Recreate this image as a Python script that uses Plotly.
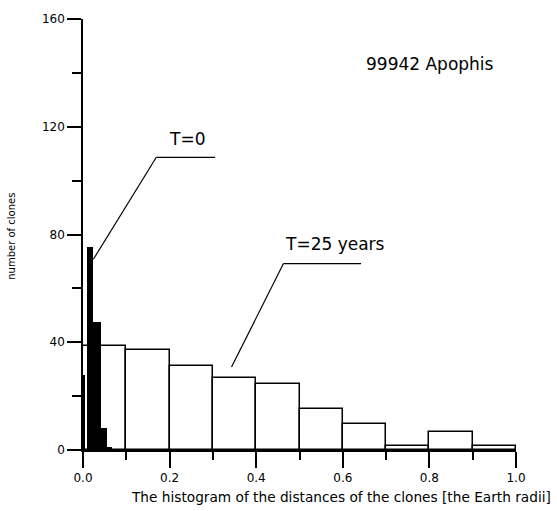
import plotly.graph_objects as go

# T = 25 years histogram (bin edges and counts)
t25_edges = [0.0, 0.1, 0.2, 0.3, 0.4, 0.5, 0.6, 0.7, 0.8, 0.9, 1.0]
t25_counts = [38.5, 37.3, 31.3, 26.9, 24.6, 15.4, 9.7, 1.5, 6.7, 1.5]

# T = 0 histogram (narrow bins near zero)
t0_left = [0.0, 0.0085, 0.022, 0.041, 0.055]
t0_right = [0.0055, 0.022, 0.041, 0.055, 0.067]
t0_counts = [28, 75.5, 47.5, 8, 1.2]

x_ticks = [0.0, 0.2, 0.4, 0.6, 0.8, 1.0]
x_tick_text = ["0.0", "0.2", "0.4", "0.6", "0.8", "1.0"]
y_ticks = [0, 40, 80, 120, 160]
y_tick_text = ["0", "40", "80", "120", "160"]

FONT = "DejaVu Sans"

def centers(lo, hi):
    return [(a + b) / 2 for a, b in zip(lo, hi)]

def widths(lo, hi):
    return [b - a for a, b in zip(lo, hi)]

fig = go.Figure()
fig.add_trace(go.Bar(
    x=centers(t25_edges[:-1], t25_edges[1:]),
    y=t25_counts,
    width=widths(t25_edges[:-1], t25_edges[1:]),
    marker=dict(color="white", line=dict(color="black", width=1.5)),
    showlegend=False,
))
fig.add_trace(go.Bar(
    x=centers(t0_left, t0_right),
    y=t0_counts,
    width=widths(t0_left, t0_right),
    marker=dict(color="black", line=dict(width=0)),
    showlegend=False,
))

# pointer lines
line_style = dict(color="black", width=1.2)
fig.add_shape(type="line", x0=0.024, y0=70.8, x1=0.169, y1=108.6, xref="x", yref="y", line=line_style)
fig.add_shape(type="line", x0=0.169, y0=108.6, x1=0.305, y1=108.6, xref="x", yref="y", line=line_style)
fig.add_shape(type="line", x0=0.343, y0=30.8, x1=0.463, y1=69.2, xref="x", yref="y", line=line_style)
fig.add_shape(type="line", x0=0.463, y0=69.2, x1=0.642, y1=69.2, xref="x", yref="y", line=line_style)

ann_font = dict(family=FONT, size=17, color="black")
fig.add_annotation(x=0.24, y=115.3, text="T=0", showarrow=False, xref="x", yref="y", font=ann_font)
fig.add_annotation(x=0.462, y=76.6, text="T=25 years", showarrow=False, xref="x", yref="y",
                   xanchor="left", font=ann_font)
fig.add_annotation(x=0.649, y=143.3, text="99942 Apophis", showarrow=False, xref="x", yref="y",
                   xanchor="left", font=ann_font)

# axis titles
fig.add_annotation(x=-0.164, y=0.497, xref="paper", yref="paper", text="number of clones",
                   textangle=-90, showarrow=False, xanchor="center", yanchor="middle",
                   font=dict(family=FONT, size=10, color="black"))
fig.add_annotation(x=0.595, y=-0.1085, xref="paper", yref="paper",
                   text="The histogram of the distances of the clones [the Earth radii]",
                   showarrow=False, xanchor="center", yanchor="middle",
                   font=dict(family=FONT, size=13.7, color="black"))

fig.update_layout(
    width=557, height=511,
    margin=dict(l=83, r=41, t=17, b=61),
    paper_bgcolor="white", plot_bgcolor="white",
    barmode="overlay", bargap=0,
    font=dict(family=FONT, size=12, color="black"),
)
fig.update_xaxes(
    range=[0, 1], tickvals=x_ticks, ticktext=x_tick_text,
    showgrid=False, zeroline=False, showline=True, linecolor="black", linewidth=1.5,
    ticks="outside", ticklen=16, tickwidth=1.5, tickcolor="black",
    minor=dict(tickvals=[0.1, 0.3, 0.5, 0.7, 0.9], ticks="outside", ticklen=8, tickwidth=1.5,
               tickcolor="black", showgrid=False),
)
fig.update_yaxes(
    range=[0, 160], tickvals=y_ticks, ticktext=y_tick_text,
    showgrid=False, zeroline=False, showline=True, linecolor="black", linewidth=1.5,
    ticks="outside", ticklen=14, tickwidth=1.5, tickcolor="black",
    minor=dict(tickvals=[20, 60, 100, 140], ticks="outside", ticklen=9, tickwidth=1.5,
               tickcolor="black", showgrid=False),
)

fig.write_html("out.html")
